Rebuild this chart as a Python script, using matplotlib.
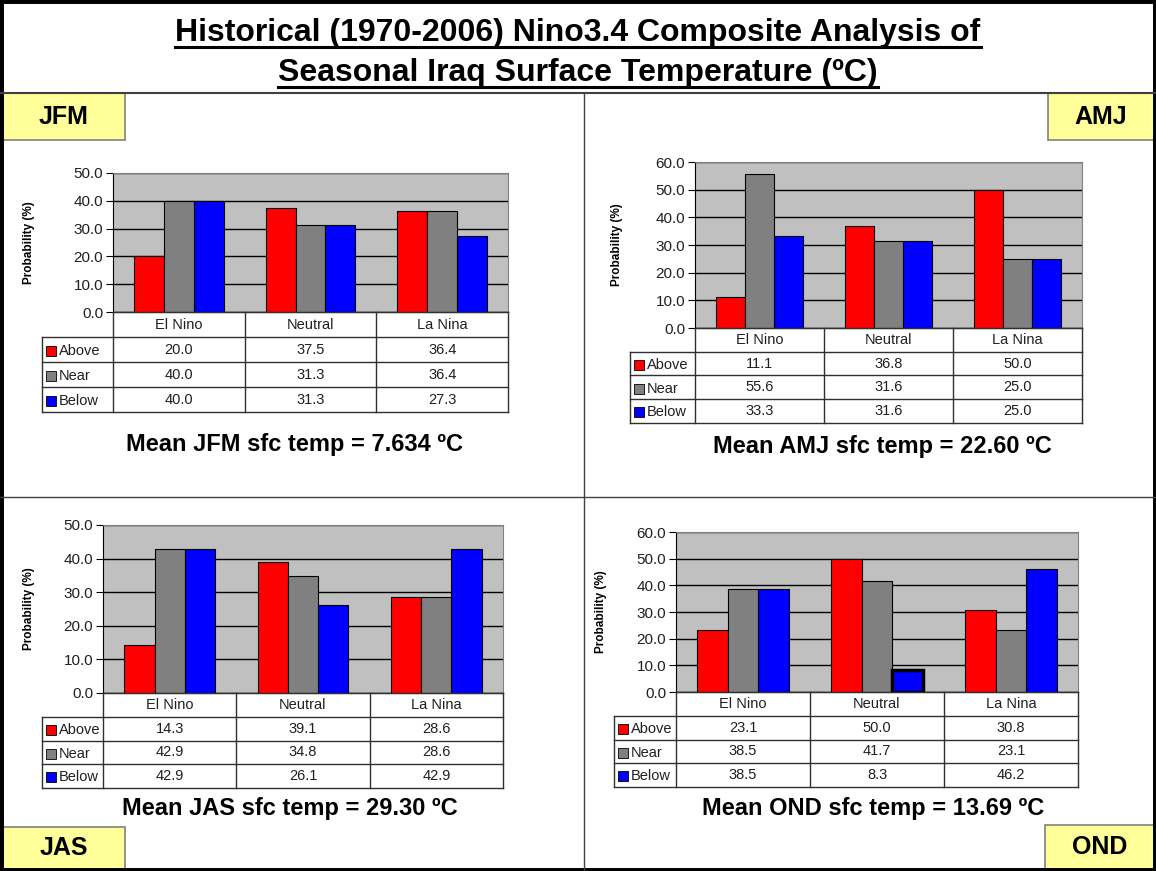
import matplotlib.pyplot as plt
from matplotlib.patches import Rectangle
from matplotlib.lines import Line2D
from matplotlib import font_manager

W, H = 1156, 871

phases = ['El Nino', 'Neutral', 'La Nina']
categories = ['Above', 'Near', 'Below']
cat_colors = ['#FF0000', '#808080', '#0000FF']

seasons = ['JFM', 'AMJ', 'JAS', 'OND']
jfm_above = [20.0, 37.5, 36.4]
jfm_near = [40.0, 31.3, 36.4]
jfm_below = [40.0, 31.3, 27.3]
amj_above = [11.1, 36.8, 50.0]
amj_near = [55.6, 31.6, 25.0]
amj_below = [33.3, 31.6, 25.0]
jas_above = [14.3, 39.1, 28.6]
jas_near = [42.9, 34.8, 28.6]
jas_below = [42.9, 26.1, 42.9]
ond_above = [23.1, 50.0, 30.8]
ond_near = [38.5, 41.7, 23.1]
ond_below = [38.5, 8.3, 46.2]
mean_temps = ['7.634', '22.60', '29.30', '13.69']
y_max = [50, 60, 50, 60]

season_data = [
    [jfm_above, jfm_near, jfm_below],
    [amj_above, amj_near, amj_below],
    [jas_above, jas_near, jas_below],
    [ond_above, ond_near, ond_below],
]

# pixel layout per panel: plot left, right, top, zero line, legend col left, table bottom, mean text (x, y)
layout = [
    dict(l=113, r=508, t=173, b=312, leg=42, tb=412, mx=295, my=445),
    dict(l=695, r=1082, t=162, b=328, leg=630, tb=423, mx=882, my=446),
    dict(l=103, r=503, t=525, b=693, leg=42, tb=788, mx=290, my=808),
    dict(l=676, r=1078, t=532, b=692, leg=614, tb=787, mx=873, my=808),
]
# season tag boxes (x0, y0, x1, y1) in pixels
tag_boxes = [(2, 93, 125, 140), (1048, 93, 1154, 140), (2, 827, 125, 869), (1045, 825, 1154, 869)]

plt.rcParams['font.family'] = ['Liberation Sans', 'DejaVu Sans']
names = {f.name for f in font_manager.fontManager.ttflist}
title_font = 'Liberation Sans Narrow' if 'Liberation Sans Narrow' in names else 'Liberation Sans'


def fig_rect(x0, y0, x1, y1):
    return [x0 / W, 1 - y1 / H, (x1 - x0) / W, (y1 - y0) / H]


fig = plt.figure(figsize=(W / 100, H / 100), dpi=100)
fig.patch.set_facecolor('white')

for k, s in enumerate(seasons):
    L = layout[k]
    vals = season_data[k]
    ax = fig.add_axes(fig_rect(L['l'], L['t'], L['r'], L['b']))
    ax.set_facecolor('#C0C0C0')
    bw = 0.227
    for j in range(3):
        xs = [i + 0.5 + (j - 1) * bw for i in range(3)]
        bars = ax.bar(xs, vals[j], width=bw, color=cat_colors[j], edgecolor='black', linewidth=0.8, zorder=3)
    if s == 'OND':
        # selected bar in the original has a thick outline
        bars[1].set_linewidth(2.5)
    ax.set_xlim(0, 3)
    ax.set_ylim(0, y_max[k])
    ticks = list(range(0, y_max[k] + 1, 10))
    ax.set_yticks(ticks)
    ax.set_yticklabels([f'{v:.1f}' for v in ticks], color='#202020')
    ax.set_xticks([])
    ax.tick_params(axis='y', direction='out', length=5, labelsize=11, pad=2)
    ax.yaxis.grid(True, color='black', linewidth=1)
    ax.set_axisbelow(True)
    ax.spines['left'].set_color('black')
    ax.spines['bottom'].set_color('black')
    ax.spines['top'].set_color('#808080')
    ax.spines['right'].set_color('#808080')
    ax.set_ylabel('Probability (%)', fontsize=8.5, fontweight='bold')
    ax.yaxis.set_label_coords(-(L['l'] - L['leg'] + 7) / (L['r'] - L['l']), 0.5)

    # data table under the bars
    gw = (L['r'] - L['l']) / 3.0
    lw = (L['l'] - L['leg']) / gw
    tax = fig.add_axes(fig_rect(L['leg'], L['b'], L['r'], L['tb']))
    tax.set_xlim(-lw, 3)
    tax.set_ylim(4, 0)
    tax.axis('off')
    lc = '#303030'
    for r in range(5):
        x0 = 0 if r == 0 else -lw
        tax.add_line(Line2D([x0, 3], [r, r], color=lc, lw=1, clip_on=False))
    for c in range(4):
        tax.add_line(Line2D([c, c], [0, 4], color=lc, lw=1, clip_on=False))
    tax.add_line(Line2D([-lw, -lw], [1, 4], color=lc, lw=1, clip_on=False))
    for i, p in enumerate(phases):
        tax.text(i + 0.5, 0.5, p, ha='center', va='center', fontsize=10.5, color='#202020')
    px = 1.0 / gw
    for j, cat in enumerate(categories):
        tax.plot([-lw + 9 * px], [j + 1.55], marker='s', ms=6.5, mfc=cat_colors[j], mec='black', mew=0.6, clip_on=False)
        tax.text(-lw + 17 * px, j + 1.55, cat, ha='left', va='center', fontsize=10.5, color='#202020')
        for i in range(3):
            tax.text(i + 0.5, j + 1.5, f'{vals[j][i]:.1f}', ha='center', va='center', fontsize=10.5, color='#202020')

    fig.text(L['mx'] / W, 1 - L['my'] / H, f'Mean {s} sfc temp = {mean_temps[k]} ºC',
             ha='center', va='center', fontsize=17, fontweight='bold')

    x0, y0, x1, y1 = tag_boxes[k]
    fig.patches.append(Rectangle((x0 / W, 1 - y1 / H), (x1 - x0) / W, (y1 - y0) / H,
                                 transform=fig.transFigure, facecolor='#FFFF99', edgecolor='#808080', lw=1.2))
    fig.text((x0 + x1) / 2 / W, 1 - (y0 + y1) / 2 / H, s, ha='center', va='center',
             fontsize=18, fontweight='bold')

# frame and panel dividers
fig.add_artist(Line2D([0, 1], [1 - 93 / H] * 2, color='#404040', lw=1.5))
fig.add_artist(Line2D([584 / W] * 2, [0, 1 - 93 / H], color='#404040', lw=1))
fig.add_artist(Line2D([0, 1], [1 - 497 / H] * 2, color='#404040', lw=1))
fig.patches.append(Rectangle((0, 0), 1, 1, transform=fig.transFigure, fill=False, edgecolor='black', lw=5))

# title with underline
title_lines = ['Historical (1970-2006) Nino3.4 Composite Analysis of',
               'Seasonal Iraq Surface Temperature (ºC)']
title_y = [33, 73]
renderer = fig.canvas.get_renderer()
for line, ty in zip(title_lines, title_y):
    t = fig.text(0.5, 1 - ty / H, line, ha='center', va='center', fontsize=23,
                 fontweight='bold', family=[title_font, 'DejaVu Sans'])
    bb = t.get_window_extent(renderer)
    uy = (bb.y0 + 1) / H
    fig.add_artist(Line2D([bb.x0 / W, bb.x1 / W], [uy, uy], color='black', lw=2.2))

fig.savefig('out.png', dpi=100)
